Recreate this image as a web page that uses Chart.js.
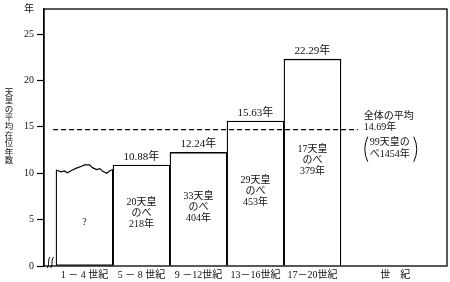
<!DOCTYPE html>
<html>
<head>
<meta charset="utf-8">
<script src="https://cdn.jsdelivr.net/npm/chart.js@4.4.1/dist/chart.umd.min.js"></script>
<style>
  html, body { margin: 0; padding: 0; background: #fff; }
</style>
</head>
<body>
<canvas id="reign" width="450" height="282"></canvas>
<script>
// 世紀ごとの天皇の平均在位年数
const periods = ['1 － 4 世紀', '5 － 8 世紀', '9 －12世紀', '13－16世紀', '17－20世紀'];
const axisEndLabel = '世　紀';
const avgReign = [null, 10.88, 12.24, 15.63, 22.29]; // 1-4世紀は不明（?）
const emperors = [null, 20, 33, 29, 17];
const totalYears = [null, 218, 404, 453, 379];
const overallAvg = 14.69;
const overallEmperors = 99;
const overallYears = 1454;
const yTicks = [0, 5, 10, 15, 20, 25];

// 1-4世紀の棒の上端（波線）：棒の中心からのずれと高さ
const waveX = [-0.5, -0.41, -0.35, -0.3, -0.21, -0.14, -0.05, 0, 0.09, 0.14, 0.21, 0.27, 0.32, 0.39, 0.45, 0.5];
const waveY = [10.35, 10.15, 10.25, 10.05, 10.35, 10.55, 10.75, 10.9, 10.9, 10.6, 10.4, 10.5, 10.2, 10.0, 10.3, 10.4];

const FONT = "'Liberation Serif', 'Noto Sans CJK JP', serif";
const Y_MAX = 27.7;

const barData = periods.map((p, i) => ({ x: i, y: avgReign[i] === null ? waveY[0] : avgReign[i] }));
const waveData = waveX.map((dx, i) => ({ x: dx, y: waveY[i] }));
const avgLine = [{ x: -0.55, y: overallAvg }, { x: 4.8, y: overallAvg }];

const annotate = {
  id: 'annotate',
  afterDraw(chart) {
    const { ctx, chartArea: area, scales: { x, y } } = chart;
    ctx.save();
    ctx.fillStyle = '#111';
    ctx.strokeStyle = '#000';

    // 枠
    ctx.lineWidth = 1.3;
    ctx.strokeRect(area.left, area.top, area.right - area.left, area.bottom - area.top);

    // 省略記号
    ctx.lineWidth = 1;
    [0, 3.5].forEach(dx => {
      const bx = area.left + 3 + dx;
      ctx.beginPath();
      ctx.moveTo(bx, area.bottom + 2);
      ctx.bezierCurveTo(bx + 3, area.bottom, bx, area.bottom - 5, bx + 3, area.bottom - 9);
      ctx.stroke();
    });

    ctx.textAlign = 'center';
    ctx.textBaseline = 'middle';

    avgReign.forEach((v, i) => {
      const cx = x.getPixelForValue(i);
      ctx.font = '10px ' + FONT;
      if (v === null) {
        ctx.fillText('?', cx, y.getPixelForValue(waveY[0] / 2) + 4);
        return;
      }
      ctx.font = '11px ' + FONT;
      ctx.fillText(v.toFixed(2) + '年', cx, y.getPixelForValue(v) - 8);
      ctx.font = '10px ' + FONT;
      const mid = y.getPixelForValue(v / 2) - 2;
      ctx.fillText(emperors[i] + '天皇', cx, mid - 11);
      ctx.fillText('のべ', cx, mid);
      ctx.fillText(totalYears[i] + '年', cx, mid + 11);
    });

    // 全体の平均
    const ax = x.getPixelForValue(4.9);
    const ay = y.getPixelForValue(overallAvg);
    ctx.textAlign = 'left';
    ctx.font = '10px ' + FONT;
    ctx.fillText('全体の平均', ax, ay - 13);
    ctx.fillText(overallAvg.toFixed(2) + '年', ax, ay - 2);
    ctx.fillText(overallEmperors + '天皇の', ax + 6, ay + 13);
    ctx.fillText('べ' + overallYears + '年', ax + 6, ay + 25);
    // 括弧
    ctx.lineWidth = 1;
    const pTop = ay + 7, pBot = ay + 32, pL = ax + 1, pR = ax + 53;
    ctx.beginPath();
    ctx.moveTo(pL + 3, pTop);
    ctx.quadraticCurveTo(pL - 3, (pTop + pBot) / 2, pL + 3, pBot);
    ctx.moveTo(pR - 3, pTop);
    ctx.quadraticCurveTo(pR + 3, (pTop + pBot) / 2, pR - 3, pBot);
    ctx.stroke();

    // 縦書きの軸タイトル
    ctx.textAlign = 'center';
    ctx.font = '8.5px ' + FONT;
    const title = '天皇の平均在位年数';
    const ty = y.getPixelForValue(15) - 4 * 8.6;
    [...title].forEach((ch, k) => ctx.fillText(ch, 9, ty + k * 8.6));

    ctx.restore();
  }
};

new Chart(document.getElementById('reign').getContext('2d'), {
  type: 'bar',
  data: {
    datasets: [
      {
        type: 'line',
        data: avgLine,
        borderColor: '#000',
        borderWidth: 1.3,
        borderDash: [5, 3],
        pointRadius: 0,
        order: 0
      },
      {
        type: 'line',
        data: waveData,
        borderColor: '#000',
        borderWidth: 1.2,
        pointRadius: 0,
        tension: 0,
        order: 0
      },
      {
        type: 'bar',
        data: barData,
        backgroundColor: '#fff',
        borderColor: '#000',
        borderWidth: 1.3,
        borderSkipped: (c) => c.dataIndex === 0 ? 'top' : 'bottom',
        barPercentage: 1,
        categoryPercentage: 1,
        order: 1
      }
    ]
  },
  options: {
    responsive: false,
    animation: false,
    devicePixelRatio: 1,
    layout: {
      padding: { top: 6, right: 3, left: 0, bottom: 0 }
    },
    plugins: {
      legend: { display: false },
      tooltip: { enabled: false }
    },
    scales: {
      x: {
        type: 'linear',
        min: -0.71,
        max: 6.36,
        offset: false,
        grid: { display: false, drawTicks: false, tickLength: 0, offset: false },
        border: { display: false },
        afterBuildTicks: (scale) => {
          scale.ticks = [0, 1, 2, 3, 4, 5.45].map(v => ({ value: v }));
        },
        afterFit: (scale) => { scale.height = 16; },
        ticks: {
          autoSkip: false,
          maxRotation: 0,
          padding: 3,
          color: '#111',
          font: { size: 10, family: FONT },
          callback: (value, index) => index < periods.length ? periods[index] : axisEndLabel
        }
      },
      y: {
        min: 0,
        max: Y_MAX,
        afterBuildTicks: (scale) => {
          scale.ticks = yTicks.concat([Y_MAX]).map(v => ({ value: v }));
        },
        afterFit: (scale) => { scale.width = 44; },
        grid: {
          drawOnChartArea: false,
          tickLength: 7,
          tickColor: (c) => c.tick && c.tick.value > 25 ? 'rgba(0,0,0,0)' : '#000',
          tickWidth: 1.2
        },
        border: { display: true, color: '#000', width: 1.3 },
        ticks: {
          padding: 3,
          color: '#111',
          font: { size: 10, family: FONT },
          callback: (value) => value === Y_MAX ? '年' : value
        }
      }
    }
  },
  plugins: [annotate]
});
</script>
</body>
</html>
